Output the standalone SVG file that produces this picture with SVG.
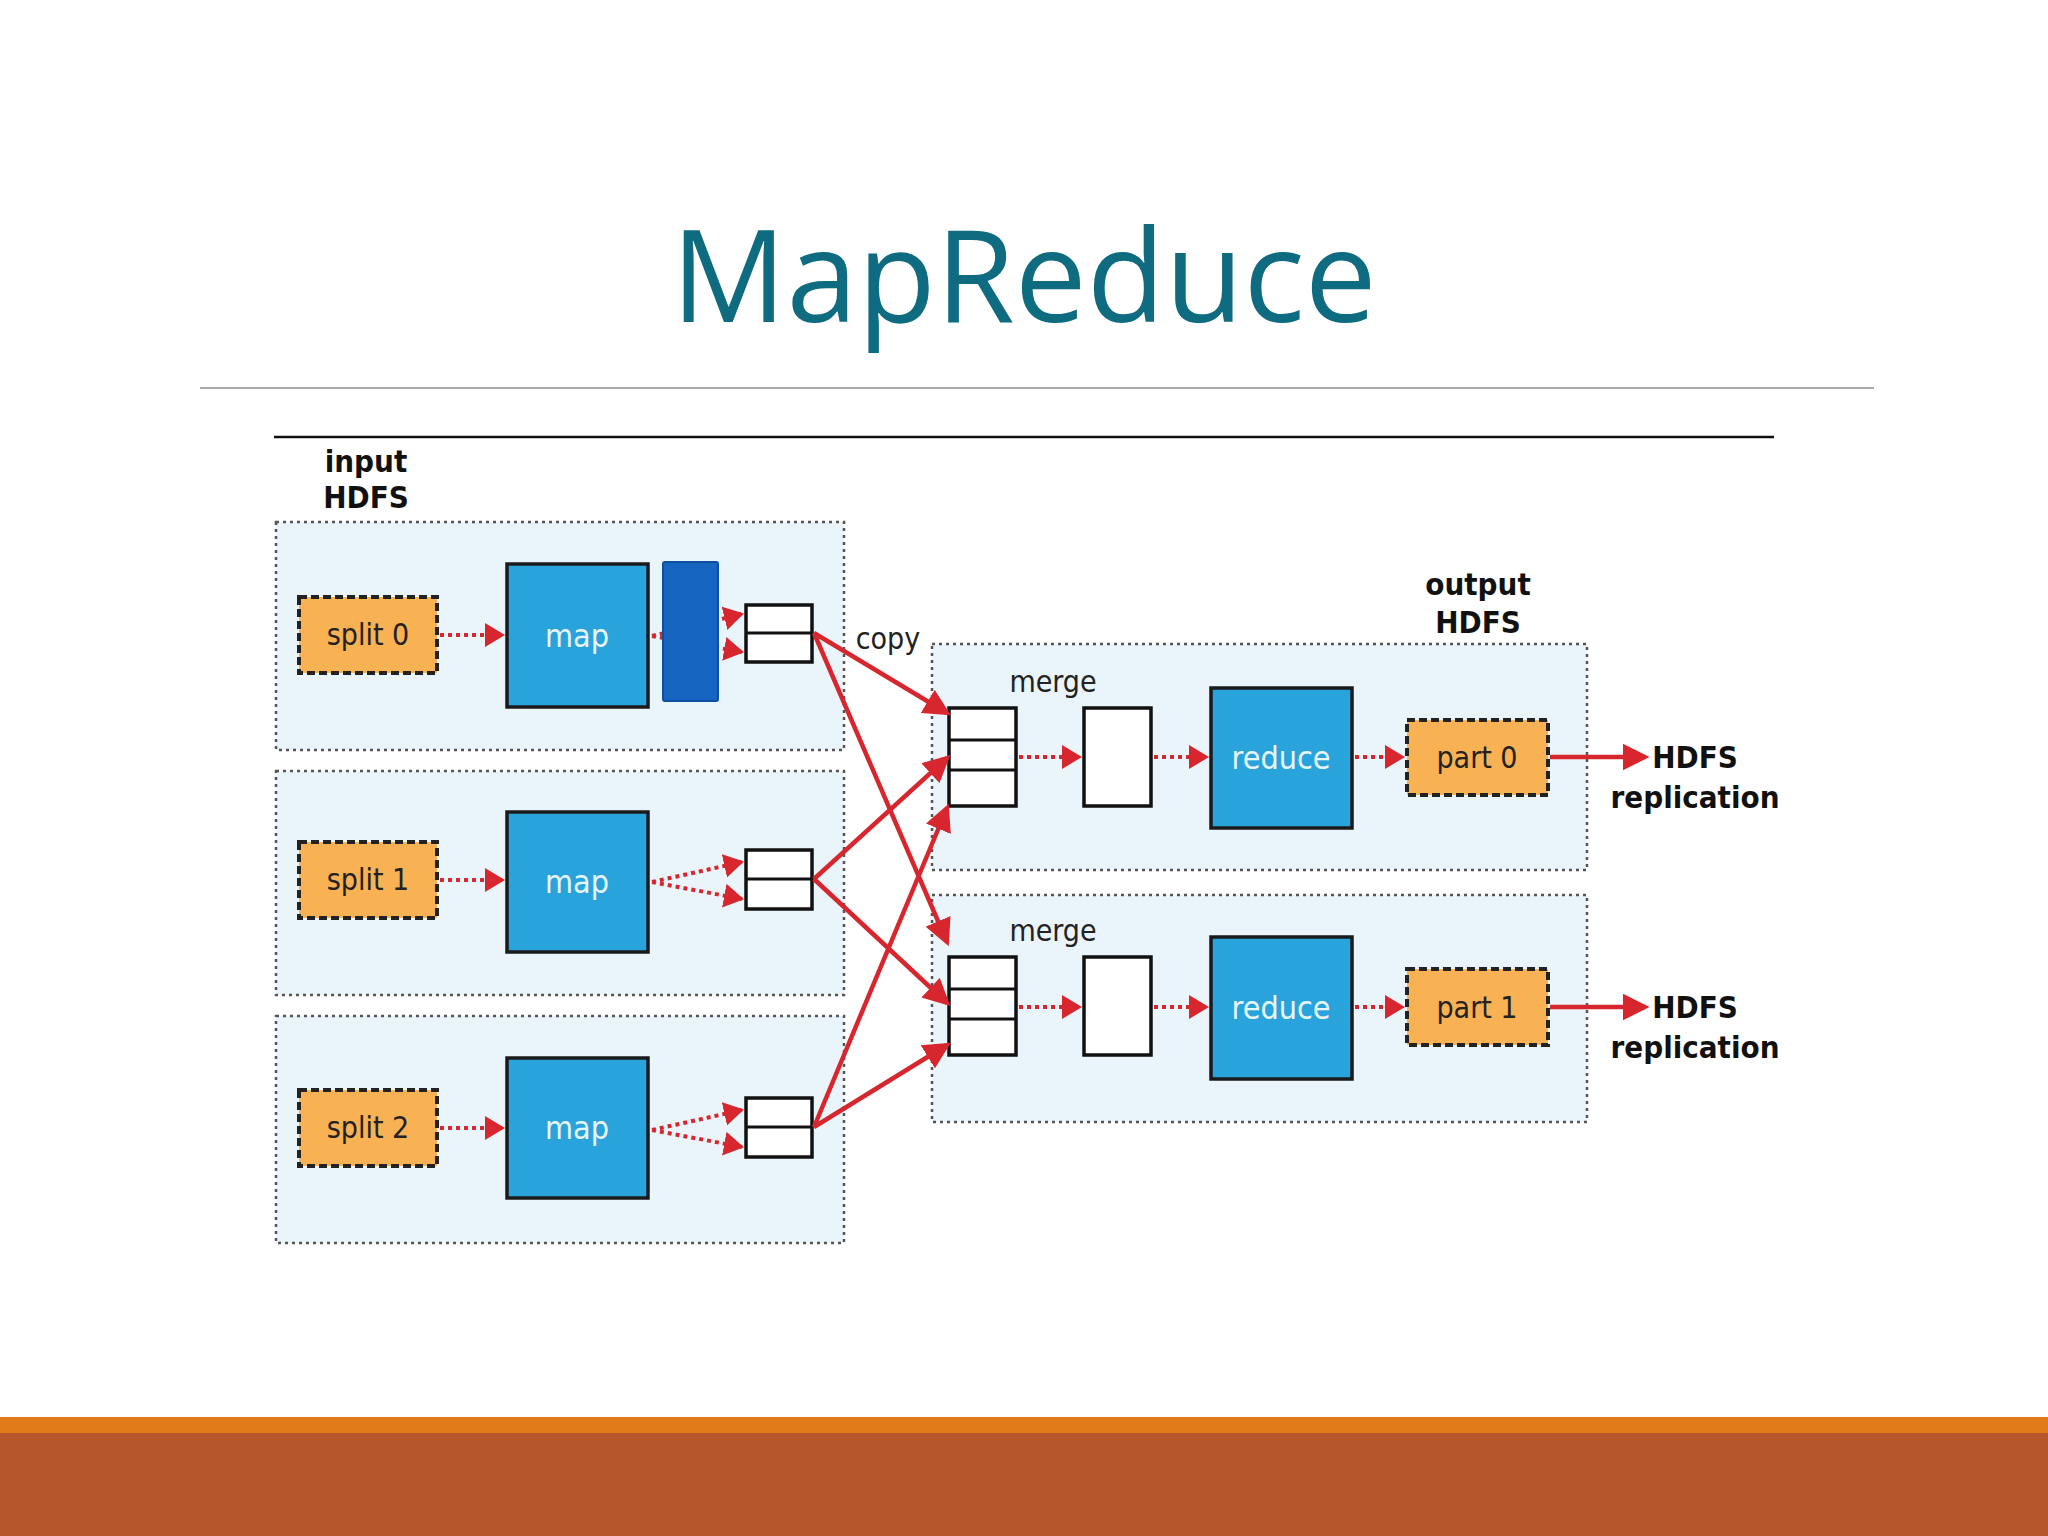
<svg xmlns="http://www.w3.org/2000/svg" width="2048" height="1536" viewBox="0 0 2048 1536">
<style>
.t{font-family:"DejaVu Sans Condensed","Liberation Sans",sans-serif}
.lbl{font-size:30px;fill:#222}
.b{font-weight:bold;font-size:31px;fill:#111}
.grp{fill:#eaf5fb;stroke:#555;stroke-width:2.5;stroke-dasharray:3 4}
.split{fill:#f8b153;stroke:#222;stroke-width:4;stroke-dasharray:8 4}
.task{fill:#29a3dc;stroke:#1a1a1a;stroke-width:3.5}
.tw{font-size:32px;fill:#e8f6fd}
.cell{fill:#fff;stroke:#111;stroke-width:3.5}
.sol{stroke:#d7262e;stroke-width:4.5;fill:none}
.dot{stroke:#d7262e;stroke-width:4;stroke-dasharray:4 4;fill:none}
</style>
<defs>
<marker id="ah" markerWidth="6" markerHeight="6" refX="5" refY="3" orient="auto" markerUnits="strokeWidth"><path d="M0,0 L6,3 L0,6 z" fill="#d7262e"/></marker>
<marker id="ad" markerWidth="5" markerHeight="6" refX="4.5" refY="3" orient="auto" markerUnits="strokeWidth"><path d="M0,0 L5,3 L0,6 z" fill="#d7262e"/></marker>
</defs>
<rect width="2048" height="1536" fill="#fff"/>
<text x="1024" y="322" text-anchor="middle" font-family="Open Sans,sans-serif" font-size="128" fill="#0f6b80">MapReduce</text>
<line x1="200" y1="388" x2="1874" y2="388" stroke="#aaa" stroke-width="2"/>
<line x1="274" y1="437" x2="1774" y2="437" stroke="#111" stroke-width="2.5"/>
<rect x="0" y="1417" width="2048" height="16" fill="#e07b1a"/>
<rect x="0" y="1433" width="2048" height="103" fill="#b5562b"/>

<g id="input-hdfs"><text class="t b" x="366" y="472" text-anchor="middle">input</text><text class="t b" x="366" y="508" text-anchor="middle">HDFS</text></g>
<g id="in0"><rect class="grp" x="276" y="522" width="568" height="228"/></g>
<g id="in1"><rect class="grp" x="276" y="771" width="568" height="224"/></g>
<g id="in2"><rect class="grp" x="276" y="1016" width="568" height="227"/></g>
<g id="out0"><rect class="grp" x="932" y="644" width="655" height="226"/></g>
<g id="out1"><rect class="grp" x="932" y="895" width="655" height="227"/></g>
<g id="output-hdfs"><text class="t b" x="1478" y="595" text-anchor="middle">output</text><text class="t b" x="1478" y="633" text-anchor="middle">HDFS</text></g>

<g id="split0"><rect class="split" x="299" y="597" width="138" height="76"/><text class="t lbl" x="368" y="645" text-anchor="middle">split 0</text></g>
<g id="split1"><rect class="split" x="299" y="842" width="138" height="76"/><text class="t lbl" x="368" y="890" text-anchor="middle">split 1</text></g>
<g id="split2"><rect class="split" x="299" y="1090" width="138" height="76"/><text class="t lbl" x="368" y="1138" text-anchor="middle">split 2</text></g>

<g id="map0"><rect class="task" x="507" y="564" width="141" height="143"/><text class="t tw" x="577" y="647" text-anchor="middle">map</text></g>
<g id="map1"><rect class="task" x="507" y="812" width="141" height="140"/><text class="t tw" x="577" y="893" text-anchor="middle">map</text></g>
<g id="map2"><rect class="task" x="507" y="1058" width="141" height="140"/><text class="t tw" x="577" y="1139" text-anchor="middle">map</text></g>

<g id="buf0"><rect class="cell" x="746" y="605" width="66" height="57"/><line x1="746" y1="633" x2="812" y2="633" stroke="#111" stroke-width="3"/></g>
<g id="buf1"><rect class="cell" x="746" y="850" width="66" height="59"/><line x1="746" y1="879" x2="812" y2="879" stroke="#111" stroke-width="3"/></g>
<g id="buf2"><rect class="cell" x="746" y="1098" width="66" height="59"/><line x1="746" y1="1127" x2="812" y2="1127" stroke="#111" stroke-width="3"/></g>

<g id="copy"><text class="t lbl" x="888" y="649" text-anchor="middle">copy</text></g>
<g id="merge0"><text class="t lbl" x="1053" y="692" text-anchor="middle">merge</text><rect class="cell" x="949" y="708" width="67" height="98"/><line x1="949" y1="740" x2="1016" y2="740" stroke="#111" stroke-width="3"/><line x1="949" y1="770" x2="1016" y2="770" stroke="#111" stroke-width="3"/></g>
<g id="merge1"><text class="t lbl" x="1053" y="941" text-anchor="middle">merge</text><rect class="cell" x="949" y="957" width="67" height="98"/><line x1="949" y1="989" x2="1016" y2="989" stroke="#111" stroke-width="3"/><line x1="949" y1="1019" x2="1016" y2="1019" stroke="#111" stroke-width="3"/></g>
<g id="sorted0"><rect class="cell" x="1084" y="708" width="67" height="98"/></g>
<g id="sorted1"><rect class="cell" x="1084" y="957" width="67" height="98"/></g>
<g id="reduce0"><rect class="task" x="1211" y="688" width="141" height="140"/><text class="t tw" x="1281" y="769" text-anchor="middle">reduce</text></g>
<g id="reduce1"><rect class="task" x="1211" y="937" width="141" height="142"/><text class="t tw" x="1281" y="1019" text-anchor="middle">reduce</text></g>
<g id="part0"><rect class="split" x="1407" y="720" width="141" height="75"/><text class="t lbl" x="1477" y="768" text-anchor="middle">part 0</text></g>
<g id="part1"><rect class="split" x="1407" y="969" width="141" height="76"/><text class="t lbl" x="1477" y="1018" text-anchor="middle">part 1</text></g>
<g id="repl0"><text class="t b" x="1695" y="768" text-anchor="middle">HDFS</text><text class="t b" x="1695" y="808" text-anchor="middle">replication</text></g>
<g id="repl1"><text class="t b" x="1695" y="1018" text-anchor="middle">HDFS</text><text class="t b" x="1695" y="1058" text-anchor="middle">replication</text></g>

<g id="connectors">
<line class="dot" x1="440" y1="635" x2="503" y2="635" marker-end="url(#ad)"/>
<line class="dot" x1="440" y1="880" x2="503" y2="880" marker-end="url(#ad)"/>
<line class="dot" x1="440" y1="1128" x2="503" y2="1128" marker-end="url(#ad)"/>
<line class="dot" x1="652" y1="636" x2="742" y2="614" marker-end="url(#ad)"/>
<line class="dot" x1="652" y1="636" x2="742" y2="652" marker-end="url(#ad)"/>
<line class="dot" x1="652" y1="882" x2="742" y2="862" marker-end="url(#ad)"/>
<line class="dot" x1="652" y1="882" x2="742" y2="899" marker-end="url(#ad)"/>
<line class="dot" x1="652" y1="1130" x2="742" y2="1110" marker-end="url(#ad)"/>
<line class="dot" x1="652" y1="1130" x2="742" y2="1147" marker-end="url(#ad)"/>
<line class="sol" x1="814" y1="633" x2="947" y2="713" marker-end="url(#ah)"/>
<line class="sol" x1="814" y1="633" x2="947" y2="942" marker-end="url(#ah)"/>
<line class="sol" x1="814" y1="879" x2="947" y2="758" marker-end="url(#ah)"/>
<line class="sol" x1="814" y1="879" x2="947" y2="1003" marker-end="url(#ah)"/>
<line class="sol" x1="814" y1="1127" x2="947" y2="808" marker-end="url(#ah)"/>
<line class="sol" x1="814" y1="1127" x2="947" y2="1045" marker-end="url(#ah)"/>
<line class="dot" x1="1019" y1="757" x2="1080" y2="757" marker-end="url(#ad)"/>
<line class="dot" x1="1154" y1="757" x2="1207" y2="757" marker-end="url(#ad)"/>
<line class="dot" x1="1355" y1="757" x2="1403" y2="757" marker-end="url(#ad)"/>
<line class="dot" x1="1019" y1="1007" x2="1080" y2="1007" marker-end="url(#ad)"/>
<line class="dot" x1="1154" y1="1007" x2="1207" y2="1007" marker-end="url(#ad)"/>
<line class="dot" x1="1355" y1="1007" x2="1403" y2="1007" marker-end="url(#ad)"/>
<line class="sol" x1="1550" y1="757" x2="1645" y2="757" marker-end="url(#ah)"/>
<line class="sol" x1="1550" y1="1007" x2="1645" y2="1007" marker-end="url(#ah)"/>
</g>
<g id="overlay"><rect x="663" y="562" width="55" height="139" rx="2" fill="#1565c0" stroke="#0d4fa0" stroke-width="2"/></g>
</svg>
